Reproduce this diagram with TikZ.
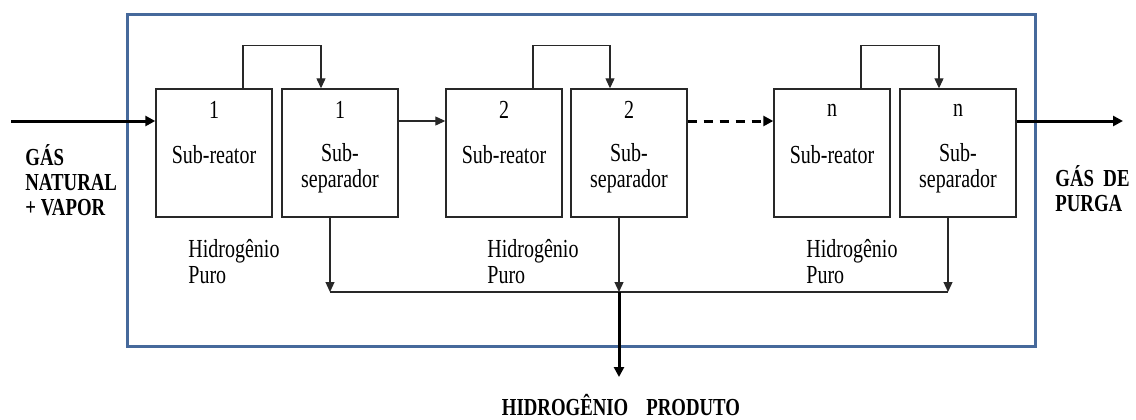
\documentclass[tikz,border=0pt]{standalone}
\usepackage{fontspec}
\setmainfont{Liberation Serif}
\usetikzlibrary{arrows.meta,calc}
\definecolor{frameblue}{RGB}{70,105,155}
\definecolor{linegray}{RGB}{40,40,40}
\tikzset{
  unit/.style={draw=linegray, line width=0.7pt, minimum width=58pt, minimum height=64pt, inner sep=0pt},
  txt/.style={font=\fontsize{10}{10}\selectfont, yscale=1.3, inner sep=0pt, align=center},
  btxt/.style={font=\fontsize{9.4}{9.6}\selectfont\bfseries, yscale=1.3, inner sep=0pt, align=left},
  flow/.style={draw=linegray, line width=0.6pt, -{Triangle[length=5pt,width=4.5pt]}},
  plain/.style={draw=linegray, line width=0.6pt},
  bigflow/.style={draw=black, line width=1.5pt, -{Triangle[length=5pt,width=5pt]}},
  frame/.style={draw=frameblue, line width=1.5pt, minimum width=454pt, minimum height=166pt, inner sep=0pt}
}
\begin{document}
\begin{tikzpicture}[x=0.5pt,y=-0.5pt]
\useasboundingbox (0,0) rectangle (1136,419);
% frame
\node[frame] (fr) at (581,180) {};
% units
\node[unit] (r1) at (214,153) {};
\node[unit] (s1) at (340,153) {};
\node[unit] (r2) at (504,153) {};
\node[unit] (s2) at (629,153) {};
\node[unit] (rn) at (832,153) {};
\node[unit] (sn) at (958,153) {};
% texts in units
\node[txt] (r1a) at (214,110) {1};
\node[txt] (r1b) at (214,155) {Sub-reator};
\node[txt] (s1a) at (340,110) {1};
\node[txt] (s1b) at (340,168) {Sub-\\separador};
\node[txt] (r2a) at (504,110) {2};
\node[txt] (r2b) at (504,155) {Sub-reator};
\node[txt] (s2a) at (629,110) {2};
\node[txt] (s2b) at (629,168) {Sub-\\separador};
\node[txt] (rna) at (832,110) {n};
\node[txt] (rnb) at (832,155) {Sub-reator};
\node[txt] (sna) at (958,110) {n};
\node[txt] (snb) at (958,168) {Sub-\\separador};
% hydrogen labels
\node[txt, anchor=west, align=left] (h1l) at (188,262) {Hidrogênio\\Puro};
\node[txt, anchor=west, align=left] (h2l) at (487,262) {Hidrogênio\\Puro};
\node[txt, anchor=west, align=left] (hnl) at (806,262) {Hidrogênio\\Puro};
% outer labels
\node[btxt, anchor=west] (inl) at (25,180) {GÁS\\NATURAL\\+ VAPOR};
\node[btxt, anchor=west] (outl) at (1055,189) {GÁS\ \ DE\\PURGA};
\node[btxt] (prodl) at (621,405) {HIDROGÊNIO\hspace{9pt}PRODUTO};
% coordinates
\coordinate (feed) at (0,121);
\coordinate (in) at (11,121);
\coordinate (out) at (1123,121);
\coordinate (hy) at (0,292);
\coordinate (prod) at (619,377);
% bypasses
\draw[flow] ([xshift=14.5pt]r1.north) -- ++(0,-43) -| ([xshift=-9.5pt]s1.north);
\draw[flow] ([xshift=14.5pt]r2.north) -- ++(0,-43) -| ([xshift=-9.5pt]s2.north);
\draw[flow] ([xshift=14.5pt]rn.north) -- ++(0,-43) -| ([xshift=-9.5pt]sn.north);
% main stream
\draw[bigflow] (in) -- (r1.west |- feed);
\draw[flow] (s1.east |- feed) -- (r2.west |- feed);
\draw[bigflow, dash pattern=on 4.5pt off 3.5pt] (s2.east |- feed) -- (rn.west |- feed);
\draw[bigflow] (sn.east |- feed) -- (out);
% hydrogen collection
\coordinate (h1) at ([xshift=-5pt]s1.south |- hy);
\coordinate (h2) at ([xshift=-5pt]s2.south |- hy);
\coordinate (hn) at ([xshift=-5pt]sn.south |- hy);
\draw[flow] ([xshift=-5pt]s1.south) -- (h1);
\draw[flow] ([xshift=-5pt]s2.south) -- (h2);
\draw[flow] ([xshift=-5pt]sn.south) -- (hn);
\draw[plain] (h1) -- (hn);
\draw[bigflow] (h2) -- (prod);
\end{tikzpicture}
\end{document}
